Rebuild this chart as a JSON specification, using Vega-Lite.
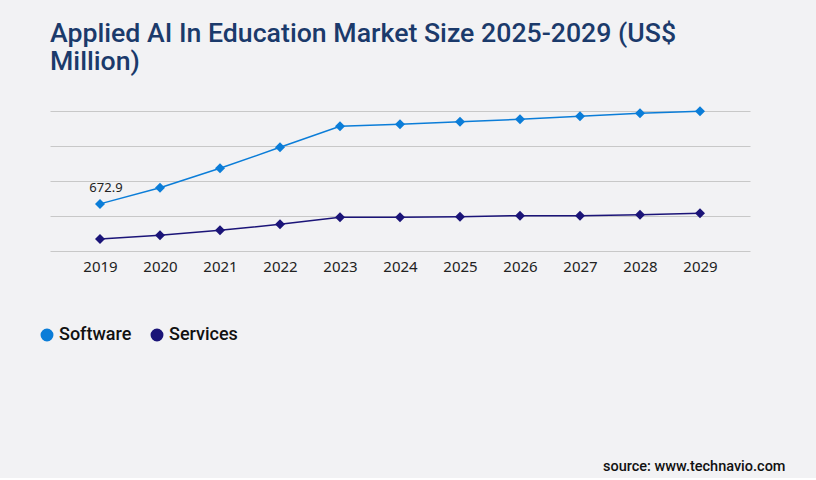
{
  "$schema": "https://vega.github.io/schema/vega-lite/v6.json",
  "width": 700,
  "height": 140,
  "padding": {"left": 38, "top": 20, "right": 66, "bottom": 5},
  "background": "#f2f2f4",
  "title": {
    "text": ["Applied AI In Education Market Size 2025-2029 (US$", "Million)"],
    "anchor": "start",
    "frame": "group",
    "font": "Roboto",
    "fontSize": 26.7,
    "fontWeight": 500,
    "color": "#1b3a6b",
    "lineHeight": 28,
    "offset": 31
  },
  "config": {
    "view": {"stroke": null},
    "font": "Roboto"
  },
  "data": {
    "values": [
      {"year": "2019", "segment": "Software", "value": 672.9},
      {"year": "2020", "segment": "Software", "value": 904},
      {"year": "2021", "segment": "Software", "value": 1181},
      {"year": "2022", "segment": "Software", "value": 1481},
      {"year": "2023", "segment": "Software", "value": 1781},
      {"year": "2024", "segment": "Software", "value": 1810},
      {"year": "2025", "segment": "Software", "value": 1848},
      {"year": "2026", "segment": "Software", "value": 1881},
      {"year": "2027", "segment": "Software", "value": 1924},
      {"year": "2028", "segment": "Software", "value": 1967},
      {"year": "2029", "segment": "Software", "value": 1995},
      {"year": "2019", "segment": "Services", "value": 171},
      {"year": "2020", "segment": "Services", "value": 224},
      {"year": "2021", "segment": "Services", "value": 295},
      {"year": "2022", "segment": "Services", "value": 381},
      {"year": "2023", "segment": "Services", "value": 481},
      {"year": "2024", "segment": "Services", "value": 481},
      {"year": "2025", "segment": "Services", "value": 490},
      {"year": "2026", "segment": "Services", "value": 505},
      {"year": "2027", "segment": "Services", "value": 505},
      {"year": "2028", "segment": "Services", "value": 519},
      {"year": "2029", "segment": "Services", "value": 538}
    ]
  },
  "encoding": {
    "x": {
      "field": "year",
      "type": "ordinal",
      "scale": {"type": "point", "padding": 0.833},
      "axis": {
        "title": "source: www.technavio.com",
        "titleAnchor": "end",
        "titleAlign": "right",
        "titleX": 735,
        "titleY": 215,
        "titleBaseline": "middle",
        "titleFont": "Roboto",
        "titleFontSize": 14.5,
        "titleFontWeight": 500,
        "titleColor": "#111111",
        "labelAngle": 0,
        "labelFont": "Noto Sans",
        "labelFontSize": 15,
        "labelColor": "#222222",
        "labelPadding": 8,
        "domain": false,
        "ticks": false,
        "grid": false
      }
    },
    "y": {
      "field": "value",
      "type": "quantitative",
      "scale": {"domain": [0, 2000]},
      "axis": {
        "title": null,
        "labels": false,
        "ticks": false,
        "domain": false,
        "values": [0, 500, 1000, 1500, 2000],
        "grid": true,
        "gridColor": "#c8c8c8",
        "gridWidth": 1
      }
    },
    "color": {
      "field": "segment",
      "type": "nominal",
      "scale": {"domain": ["Software", "Services"], "range": ["#0b7dd8", "#1b1478"]},
      "legend": {
        "title": null,
        "orient": "none",
        "direction": "horizontal",
        "legendX": -12,
        "legendY": 215,
        "symbolType": "circle",
        "symbolSize": 130,
        "symbolOpacity": 1,
        "labelFont": "Roboto",
        "labelFontSize": 18,
        "labelFontWeight": 500,
        "labelColor": "#111111",
        "labelOffset": 3,
        "columnPadding": 16
      }
    }
  },
  "layer": [
    {"mark": {"type": "line", "strokeWidth": 1.5}},
    {"mark": {"type": "point", "shape": "diamond", "filled": true, "size": 100, "opacity": 1}},
    {
      "transform": [{"filter": "datum.segment === 'Software' && datum.year === '2019'"}],
      "mark": {"type": "text", "dy": -16, "dx": 6, "font": "Noto Sans", "fontSize": 13, "color": "#222222"},
      "encoding": {
        "text": {"field": "value", "type": "quantitative", "format": ".1f"},
        "color": {"value": "#222222"}
      }
    }
  ]
}
